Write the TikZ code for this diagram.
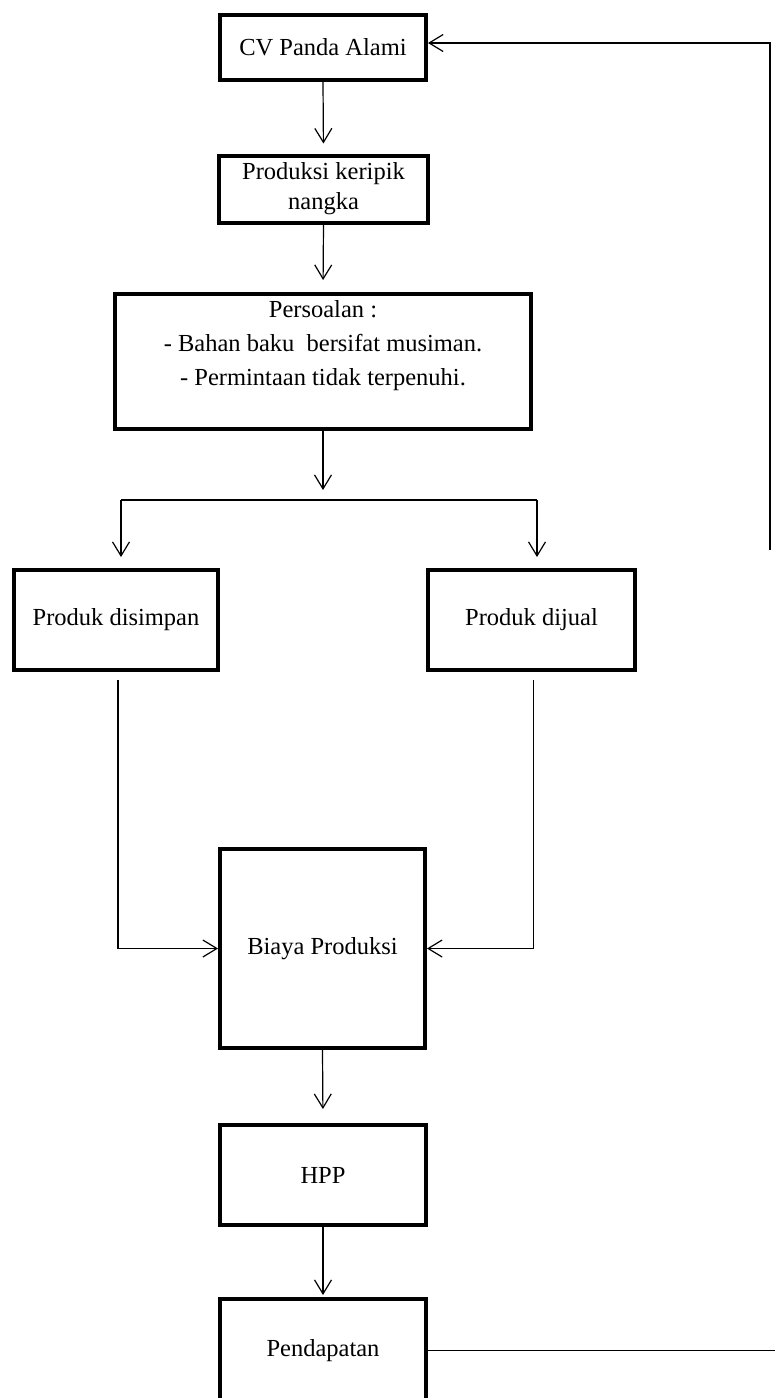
\documentclass[tikz,border=0pt]{standalone}
\usepackage{fontspec}
\setmainfont{Liberation Serif}
\usepackage{tikz}
\usetikzlibrary{arrows.meta,positioning}

\begin{document}
\begin{tikzpicture}[
  x=1pt, y=-1pt,
  box/.style={draw, line width=4pt, align=center, inner sep=0pt,
    font=\fontsize{24.5}{30}\selectfont},
  conn/.style={line width=1.2pt},
  tip/.style={-{Straight Barb[length=14pt,width=17pt,line width=1.2pt]}}
]
\useasboundingbox (0,0) rectangle (775,1398);
\clip (0,0) rectangle (775,1398);

% boxes
\node[box, minimum width=206pt, minimum height=65pt] (cv) at (323,47.5) {CV Panda Alami};
\node[box, minimum width=209pt, minimum height=67pt] (prod) at (323.5,189) {Produksi keripik\\nangka};
\node[box, minimum width=416pt, minimum height=135pt,
  label={[anchor=north, align=center, inner sep=0pt, yshift=-8pt,
    font=\fontsize{24.5}{34}\selectfont]north:{Persoalan :\\- Bahan baku\ \ bersifat musiman.\\- Permintaan tidak terpenuhi.}}] (persoalan) at (323,361.5) {};
\node[box, minimum width=204pt, minimum height=100pt] (simpan) at (116,620) {Produk disimpan};
\node[box, minimum width=207pt, minimum height=100pt] (jual) at (531.5,620) {Produk dijual};
\node[box, minimum width=205pt, minimum height=199pt] (biaya) at (322.5,948.5) {Biaya Produksi};
\node[box, minimum width=206pt, minimum height=100pt] (hpp) at (323,1175) {HPP};
\node[box, minimum width=206pt, minimum height=103pt] (pend) at (323,1350.5) {Pendapatan};

% free ends
\coordinate (splitL) at (121,500);
\coordinate (splitR) at (537,500);
\coordinate (fbTop) at (770,43);
\coordinate (fbEnd) at (770,550);
\coordinate (fbOut) at (776,1349);

% connectors
\draw[conn, tip, shorten >=10pt] (cv.south) -- (prod.north);
\draw[conn, tip, shorten >=12pt] (prod.south) -- (persoalan.north);
\draw[conn, tip, shorten >=10pt] (persoalan.south) -- (persoalan.south |- splitL);
\draw[conn] (splitL) -- (splitR);
\draw[conn, tip, shorten >=11pt] (splitL) -- (splitL |- simpan.north);
\draw[conn, tip, shorten >=11pt] (splitR) -- (splitR |- jual.north);
\draw[conn, tip, shorten <=8pt] ([xshift=2pt]simpan.south) -- ([xshift=2pt]simpan.south |- biaya.west) -- (biaya.west);
\draw[conn, tip, shorten <=8pt] ([xshift=2pt]jual.south) -- ([xshift=2pt]jual.south |- biaya.east) -- (biaya.east);
\draw[conn, tip, shorten >=14pt] (biaya.south) -- (hpp.north);
\draw[conn, tip, shorten >=2pt] (hpp.south) -- (pend.north);
\draw[conn] (pend.east) -- (pend.east -| fbOut);
\draw[conn, tip] (fbEnd) -- (fbTop) -- (fbTop -| cv.east);

\end{tikzpicture}
\end{document}
